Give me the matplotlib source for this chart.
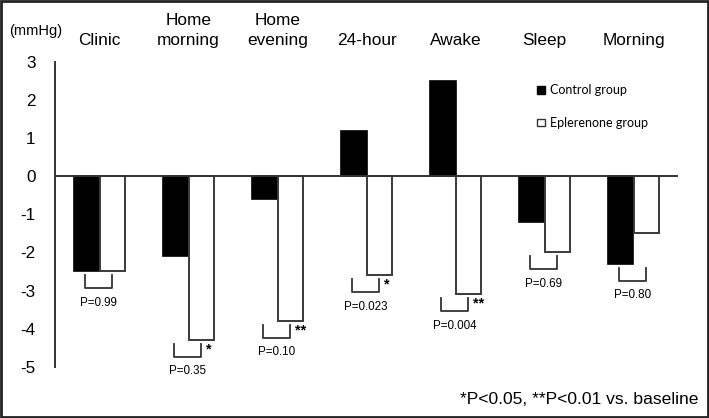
import matplotlib
matplotlib.use('Agg')
import matplotlib.pyplot as plt
from matplotlib.patches import Patch
import numpy as np

plt.rcParams['font.family'] = ['Liberation Sans', 'DejaVu Sans']

categories = ['Clinic', 'Home\nmorning', 'Home\nevening', '24-hour', 'Awake', 'Sleep', 'Morning']
control = [-2.5, -2.1, -0.6, 1.2, 2.5, -1.2, -2.3]
eplerenone = [-2.5, -4.3, -3.8, -2.6, -3.1, -2.0, -1.5]
p_values = ['P=0.99', 'P=0.35', 'P=0.10', 'P=0.023', 'P=0.004', 'P=0.69', 'P=0.80']
stars = ['', '*', '**', '*', '**', '', '']
yticks = [3, 2, 1, 0, -1, -2, -3, -4, -5]

fig = plt.figure(figsize=(7.09, 4.18), dpi=100)
ax = fig.add_axes([55 / 709, 1 - 366.7 / 418, (678 - 55) / 709, (366.7 - 62) / 418])

x = np.arange(len(categories))
w = 0.287
ax.bar(x - w / 2, control, w, color='black', edgecolor='black', linewidth=1.2)
ax.bar(x + w / 2, eplerenone, w, color='white', edgecolor='#3a3a3a', linewidth=1.4)

ax.set_xlim(-0.5, 6.5)
ax.set_ylim(-5, 3)
ax.axhline(0, color='#333333', linewidth=1.4)

ax.spines['top'].set_visible(False)
ax.spines['right'].set_visible(False)
ax.spines['bottom'].set_visible(False)
ax.spines['left'].set_color('#333333')
ax.spines['left'].set_linewidth(1.4)
ax.set_xticks([])
ax.set_yticks(yticks)
ax.set_yticklabels([str(t) for t in yticks])
ax.tick_params(axis='y', length=0, pad=14, labelsize=12.3)

# brackets, p values and stars below each pair
for i in range(len(categories)):
    top = min(control[i], eplerenone[i], 0) - 0.1
    bot = top - 0.34
    xl, xr = x[i] - 0.165, x[i] + 0.145
    ax.plot([xl, xl, xr, xr], [top, bot, bot, top], color='#333333', linewidth=1.3)
    ax.text((xl + xr) / 2, bot - 0.38, p_values[i], ha='center', va='center', fontsize=8.4)
    if stars[i]:
        ax.text(x[i] + 0.2, top - 0.15, stars[i], ha='left', va='center',
                fontsize=10.5, fontweight='bold')

# category labels on top
for i, c in enumerate(categories):
    ax.text(x[i], 3.38, c, ha='center', va='bottom', fontsize=12.4, linespacing=1.35)
fig.text(36 / 709, 1 - 31 / 418, '(mmHg)', ha='center', va='center', fontsize=10.5)

handles = [Patch(facecolor='black', edgecolor='black'),
           Patch(facecolor='white', edgecolor='#333333')]
leg = ax.legend(handles, ['Control group', 'Eplerenone group'], loc='upper left',
                bbox_to_anchor=((526 - 55) / 623, (1 - 73 / 418 - 0.1227) / 0.729),
                frameon=False, handlelength=0.6, handleheight=0.6, handletextpad=0.45,
                labelspacing=1.65, prop={'family': 'Lato', 'size': 9})

fig.text(698 / 709, 1 - 400 / 418, '*P<0.05, **P<0.01 vs. baseline', ha='right',
         va='center', fontsize=12.6)

# outer frame
fig.patches.append(plt.Rectangle((0.0015, 0.0025), 0.997, 0.995, transform=fig.transFigure,
                                 fill=False, edgecolor='#222222', linewidth=2))

fig.savefig('out.png', dpi=100)
